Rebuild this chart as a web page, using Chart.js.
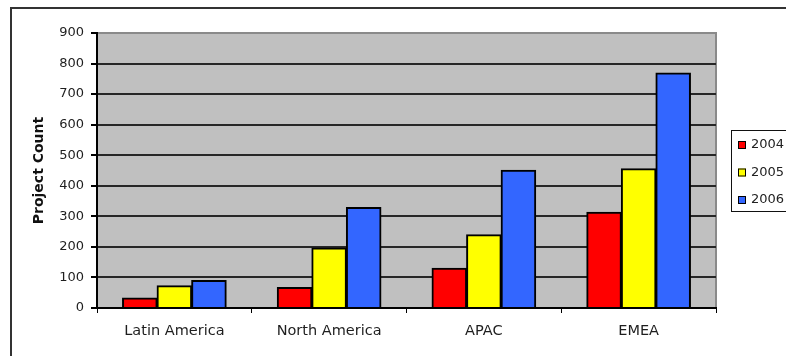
<!DOCTYPE html>
<html>
<head>
<meta charset="utf-8">
<title>Project Count by Region</title>
<script src="https://cdn.jsdelivr.net/npm/chart.js@4.4.1/dist/chart.umd.min.js"></script>
<style>
  html, body { margin: 0; padding: 0; background: #fff; }
  #wrap { width: 786px; height: 356px; }
</style>
</head>
<body>
<div id="wrap"><canvas id="chart" width="786" height="356"></canvas></div>
<script>
// Regions on the category axis
const regions = ['Latin America', 'North America', 'APAC', 'EMEA'];
// Series names (years)
const years = ['2004', '2005', '2006'];
// Project counts per region, one array per year
const counts2004 = [33, 67, 130, 313];
const counts2005 = [73, 196, 240, 456];
const counts2006 = [90, 329, 451, 769];
// Value axis range and step
const yMin = 0;
const yMax = 900;
const yStep = 100;

const seriesValues = [counts2004, counts2005, counts2006];
const seriesColors = ['#ff0000', '#ffff00', '#3366ff'];

Chart.defaults.font.family = "'DejaVu Sans', 'Liberation Sans', sans-serif";

// Outer frame and grey plotting area behind the grid
const framePlugin = {
  id: 'frame',
  beforeDraw(chart) {
    const { ctx, chartArea: a } = chart;
    ctx.save();
    ctx.fillStyle = '#ffffff';
    ctx.fillRect(0, 0, chart.width, chart.height);
    ctx.strokeStyle = '#333333';
    ctx.lineWidth = 2;
    ctx.strokeRect(11, 8, chart.width + 40, chart.height + 40);
    ctx.fillStyle = '#c0c0c0';
    ctx.fillRect(a.left, a.top, a.right - a.left, a.bottom - a.top);
    ctx.strokeStyle = '#8a8a8a';
    ctx.lineWidth = 2;
    ctx.strokeRect(a.left, a.top, a.right - a.left, a.bottom - a.top);
    ctx.restore();
  }
};

// Boxed legend on the right-hand side
const sideLegendPlugin = {
  id: 'sideLegend',
  afterDraw(chart) {
    const { ctx } = chart;
    ctx.save();
    ctx.strokeStyle = '#111111';
    ctx.lineWidth = 1;
    ctx.strokeRect(731.5, 130.5, 120, 81);
    ctx.font = "13px 'DejaVu Sans', sans-serif";
    ctx.textBaseline = 'middle';
    ctx.textAlign = 'left';
    chart.data.datasets.forEach((ds, i) => {
      const y = 145 + i * 27.5;
      ctx.fillStyle = ds.backgroundColor;
      ctx.fillRect(738, y - 4, 8, 8);
      ctx.strokeStyle = '#000000';
      ctx.lineWidth = 1;
      ctx.strokeRect(738.5, y - 3.5, 7, 7);
      ctx.fillStyle = '#222222';
      ctx.fillText(ds.label, 751, y);
    });
    ctx.restore();
  }
};

new Chart(document.getElementById('chart'), {
  type: 'bar',
  data: {
    labels: regions,
    datasets: years.map((year, i) => ({
      label: year,
      data: seriesValues[i],
      backgroundColor: seriesColors[i],
      borderColor: '#000000',
      borderWidth: 2,
      borderSkipped: 'start',
      inflateAmount: 0.5,
      barPercentage: 1.0,
      categoryPercentage: 0.67
    }))
  },
  options: {
    responsive: false,
    animation: false,
    devicePixelRatio: 1,
    layout: { padding: { top: 33, right: 70, bottom: 0, left: 0 } },
    plugins: {
      legend: { display: false },
      tooltip: { enabled: false }
    },
    scales: {
      x: {
        offset: true,
        grid: {
          display: true,
          offset: true,
          drawOnChartArea: false,
          drawTicks: true,
          tickLength: 5,
          color: '#000000',
          lineWidth: 1
        },
        border: { display: true, color: '#000000', width: 2 },
        ticks: {
          color: '#1e1e1e',
          font: { size: 14.5 },
          padding: 10,
          maxRotation: 0,
          autoSkip: false
        },
        afterFit(scale) { scale.height = 48; }
      },
      y: {
        min: yMin,
        max: yMax,
        grid: {
          color: (c) => (c.tick && c.tick.value === yMax) ? 'rgba(0,0,0,0)' : '#262626',
          tickColor: '#000000',
          lineWidth: 2,
          tickLength: 6
        },
        border: { display: true, color: '#000000', width: 2 },
        ticks: {
          stepSize: yStep,
          color: '#1e1e1e',
          font: { size: 13 },
          padding: 7
        },
        title: {
          display: true,
          text: 'Project Count',
          color: '#111111',
          font: { size: 14, weight: 'bold' },
          padding: { top: 31, bottom: 0 }
        },
        afterFit(scale) { scale.width = 97; }
      }
    }
  },
  plugins: [framePlugin, sideLegendPlugin]
});
</script>
</body>
</html>
